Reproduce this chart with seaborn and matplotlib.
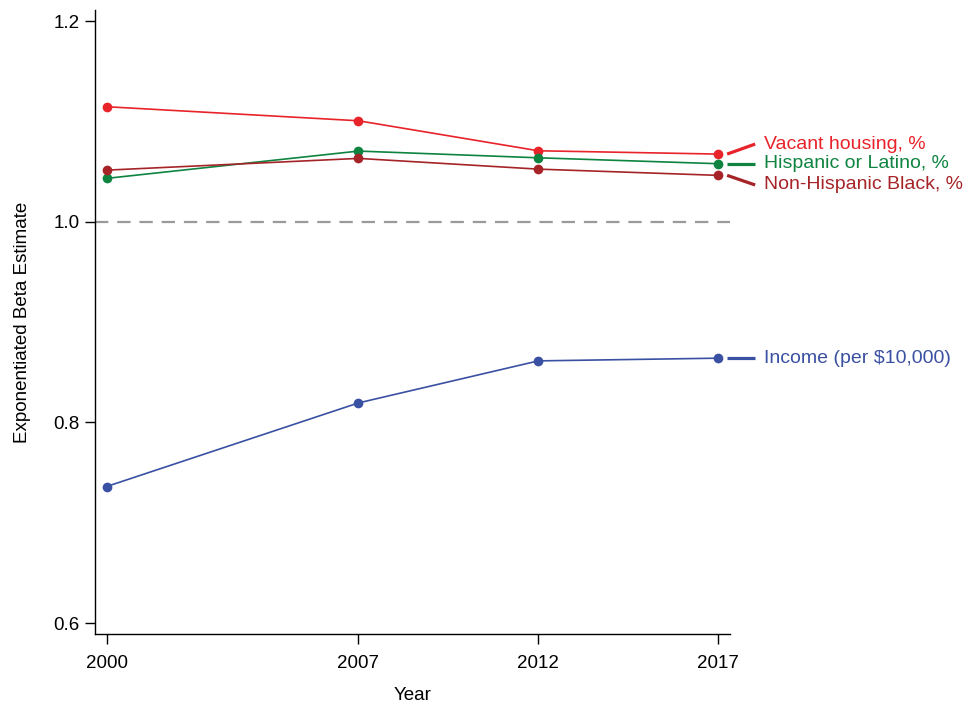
import numpy as np
import pandas as pd
import matplotlib
matplotlib.use("Agg")
import matplotlib.pyplot as plt
import seaborn as sns

# ---- data ----
years = [2000, 2007, 2012, 2017]
vacant = [1.1146, 1.1006, 1.0707, 1.0674]
hispanic = [1.0432, 1.0704, 1.0637, 1.0578]
black = [1.0514, 1.0631, 1.0524, 1.0462]
income = [0.7361, 0.8194, 0.8613, 0.8640]

series_names = ["Vacant housing, %", "Hispanic or Latino, %",
                "Non-Hispanic Black, %", "Income (per $10,000)"]
series_values = [vacant, hispanic, black, income]
colors = ["#E8232A", "#0E8440", "#A62428", "#3A50A2"]
label_offsets = [0.0100, 0.0, -0.0096, 0.0]  # label layout offsets (y)

y_ticks = [0.6, 0.8, 1.0, 1.2]
x_ticks = years

rows = []
for name, vals in zip(series_names, series_values):
    for yr, v in zip(years, vals):
        rows.append({"Year": yr, "Estimate": v, "Variable": name})
df = pd.DataFrame(rows)

sns.set_style("ticks")
plt.rcParams["font.family"] = ["Liberation Sans", "DejaVu Sans"]
plt.rcParams["text.color"] = "black"
plt.rcParams["axes.labelcolor"] = "black"
plt.rcParams["xtick.color"] = "black"
plt.rcParams["ytick.color"] = "black"

fig = plt.figure(figsize=(9.67, 7.05), dpi=100)
ax = fig.add_axes([95 / 967, 1 - 634 / 705, (730 - 95) / 967, (634 - 10) / 705])

ax.axhline(1.0, color="#9a9a9a", lw=1.6, dashes=(6, 4), zorder=1)

palette = dict(zip(series_names, colors))
sns.lineplot(data=df, x="Year", y="Estimate", hue="Variable",
             hue_order=series_names, palette=palette, marker="o",
             markersize=7, markeredgewidth=0, linewidth=1.2,
             legend=False, ax=ax, zorder=3)

ax.set_xlim(1999.675, 2017.33)
ax.set_ylim(0.5891, 1.211)
ax.set_xticks(x_ticks)
ax.set_xticklabels([str(y) for y in x_ticks])
ax.set_yticks(y_ticks)
ax.set_yticklabels([f"{t:.1f}" for t in y_ticks])
ax.tick_params(axis="both", length=7, width=1.0, labelsize=13.5,
               color="black", labelcolor="black")
ax.tick_params(axis="x", pad=8)
ax.tick_params(axis="y", pad=4)
for s in ["top", "right"]:
    ax.spines[s].set_visible(False)
for s in ["left", "bottom"]:
    ax.spines[s].set_linewidth(1.0)
    ax.spines[s].set_color("black")

ax.set_xlabel("Year", fontsize=13.5, labelpad=11, color="black")
ax.set_ylabel("Exponentiated Beta Estimate", fontsize=13.5, labelpad=16, color="black")

# direct labels with leader lines
last_year = years[-1]
for name, vals, col, off in zip(series_names, series_values, colors, label_offsets):
    y0 = vals[-1]
    y1 = y0 + off
    ax.plot([last_year + 0.25, last_year + 1.03], [y0, y1], color=col,
            lw=2.3, clip_on=False, solid_capstyle="butt")
    ax.text(last_year + 1.28, y1, name, color=col, fontsize=14,
            va="center", ha="left", clip_on=False)

fig.savefig("out.png", dpi=100)
